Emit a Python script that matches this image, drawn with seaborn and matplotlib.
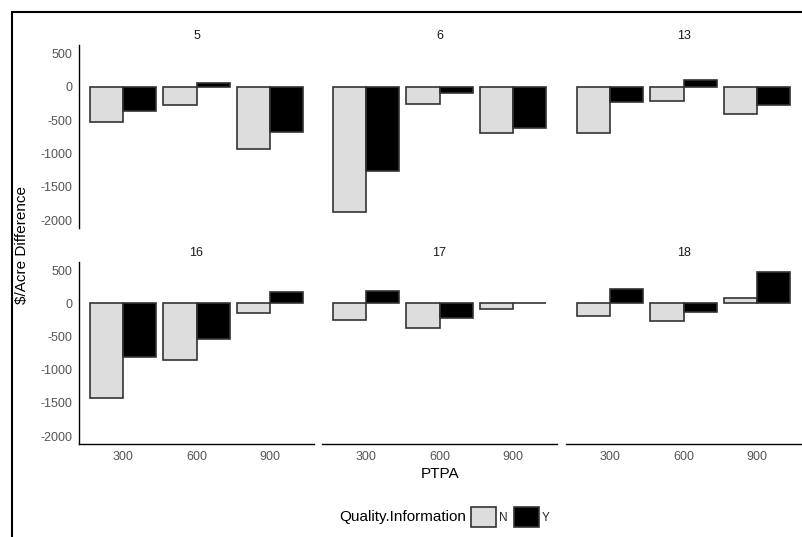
import pandas as pd
import matplotlib
matplotlib.use("Agg")
import matplotlib.pyplot as plt
from matplotlib.lines import Line2D
import seaborn as sns

# values
fields = ["5", "6", "13", "16", "17", "18"]
ptpa = ["300", "600", "900"]
quality = ["N", "Y"]
diff_n = {
    "5": [-527, -280, -930],
    "6": [-1885, -260, -690],
    "13": [-695, -215, -405],
    "16": [-1430, -850, -145],
    "17": [-255, -365, -80],
    "18": [-195, -270, 80],
}
diff_y = {
    "5": [-360, 55, -680],
    "6": [-1270, -100, -620],
    "13": [-230, 95, -275],
    "16": [-810, -530, 170],
    "17": [195, -225, 10],
    "18": [225, -130, 480],
}
y_ticks = [-2000, -1500, -1000, -500, 0, 500]

rows = []
for f in fields:
    for i, p in enumerate(ptpa):
        rows.append({"Field": f, "PTPA": p, "Quality.Information": "N", "Diff": diff_n[f][i]})
        rows.append({"Field": f, "PTPA": p, "Quality.Information": "Y", "Diff": diff_y[f][i]})
df = pd.DataFrame(rows)

sns.set_style("white")
plt.rcParams["font.family"] = ["Liberation Sans", "DejaVu Sans"]

W, H = 802, 537
fig = plt.figure(figsize=(W / 100, H / 100), dpi=100)

col_x = [79, 322, 566]
panel_w = 235
row_y = [(45, 228), (262, 444)]
palette = {"N": "#DDDDDD", "Y": "#000000"}
tick_col = "#555555"

axes = []
for k, f in enumerate(fields):
    r, c = divmod(k, 3)
    top, bot = row_y[r]
    ax = fig.add_axes([col_x[c] / W, 1 - bot / H, panel_w / W, (bot - top) / H])
    sub = df[df["Field"] == f]
    sns.barplot(data=sub, x="PTPA", y="Diff", hue="Quality.Information",
                order=ptpa, hue_order=quality, palette=palette,
                width=0.9, gap=0, edgecolor="#333333", linewidth=1.2,
                errorbar=None, legend=(k == 0), ax=ax)
    ax.set_xlim(-0.6, 2.6)
    ax.set_ylim(-2120, 625)
    ax.set_xlabel("")
    ax.set_ylabel("")
    ax.set_title(f, fontsize=9, color="#1a1a1a", pad=4)
    for s in ["top", "right"]:
        ax.spines[s].set_visible(False)
    for s in ["left", "bottom"]:
        ax.spines[s].set_color("black")
        ax.spines[s].set_linewidth(1.0)
    ax.set_yticks(y_ticks)
    ax.set_yticklabels([str(v) for v in y_ticks])
    ax.tick_params(axis="both", labelsize=9, colors="#333333", labelcolor=tick_col,
                   length=3, width=0.8, pad=2)
    if c != 0:
        ax.spines["left"].set_visible(False)
        ax.tick_params(axis="y", left=False, labelleft=False)
    if r == 0:
        ax.spines["bottom"].set_visible(False)
        ax.tick_params(axis="x", bottom=False, labelbottom=False)
    axes.append(ax)

handles, labels = axes[0].get_legend_handles_labels()
axes[0].get_legend().remove()

fig.text(22 / W, 1 - 245 / H, "$/Acre Difference", rotation=90,
         ha="center", va="center", fontsize=11, color="black")
fig.text(440 / W, 1 - 474 / H, "PTPA", ha="center", va="center",
         fontsize=11, color="black")
fig.text(466 / W, 1 - 517 / H, "Quality.Information", ha="right", va="center",
         fontsize=11, color="black")
fig.legend(handles, labels, loc="center left", bbox_to_anchor=(471 / W, 1 - 517 / H),
           ncol=2, frameon=False, fontsize=8.5, handlelength=2.1, handleheight=2.1,
           handletextpad=0.3, columnspacing=0.5, borderpad=0, borderaxespad=0)

# frame of the original screenshot
fig.add_artist(Line2D([12 / W, 12 / W], [0, 1 - 12 / H], transform=fig.transFigure,
                      color="black", lw=1.5))
fig.add_artist(Line2D([12 / W, 1], [1 - 12 / H, 1 - 12 / H], transform=fig.transFigure,
                      color="black", lw=1.5))

fig.savefig("out.png", dpi=100)
